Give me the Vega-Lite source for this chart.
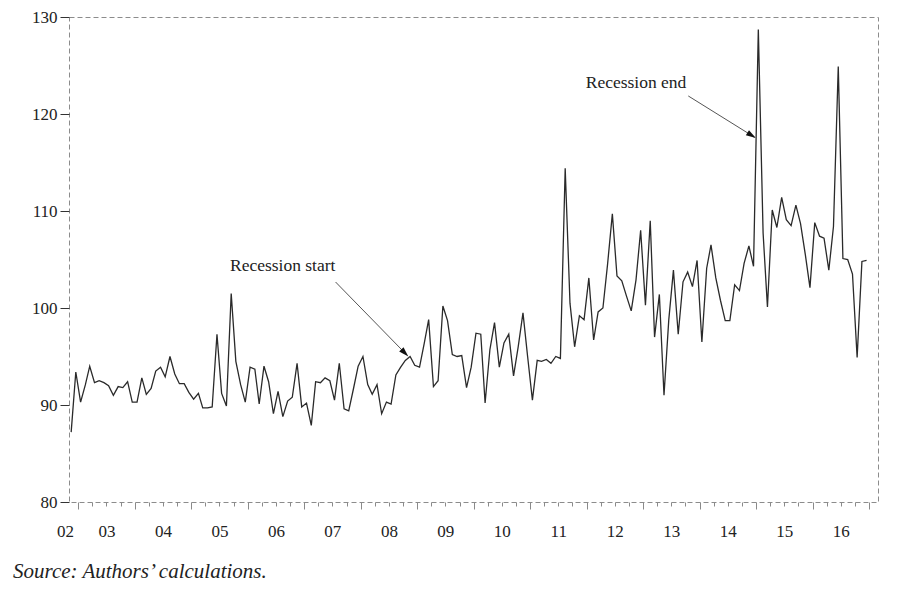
{
  "$schema": "https://vega.github.io/schema/vega-lite/v6.json",
  "width": 809,
  "height": 485,
  "autosize": {"type": "none"},
  "padding": {"left": 69, "top": 17, "right": 22, "bottom": 93},
  "background": "white",
  "config": {
    "view": {"stroke": "#8c8c8c", "strokeDash": [5, 3], "strokeWidth": 1},
    "font": "Liberation Serif"
  },
  "title": {
    "text": "Source: Authors’ calculations.",
    "orient": "bottom",
    "anchor": "start",
    "frame": "group",
    "dx": -56,
    "offset": 19,
    "font": "Liberation Serif",
    "fontSize": 21,
    "fontStyle": "italic",
    "fontWeight": "normal",
    "color": "#222222"
  },
  "datasets": {
    "series": [
      {"date": "2002-11-15", "value": 87.2}, {"date": "2002-12-15", "value": 93.4},
      {"date": "2003-01-15", "value": 90.3}, {"date": "2003-02-15", "value": 92.1}, {"date": "2003-03-15", "value": 94.0}, {"date": "2003-04-15", "value": 92.3}, {"date": "2003-05-15", "value": 92.5}, {"date": "2003-06-15", "value": 92.3}, {"date": "2003-07-15", "value": 92.0}, {"date": "2003-08-15", "value": 91.0}, {"date": "2003-09-15", "value": 91.9}, {"date": "2003-10-15", "value": 91.8}, {"date": "2003-11-15", "value": 92.4}, {"date": "2003-12-15", "value": 90.3},
      {"date": "2004-01-15", "value": 90.3}, {"date": "2004-02-15", "value": 92.8}, {"date": "2004-03-15", "value": 91.1}, {"date": "2004-04-15", "value": 91.7}, {"date": "2004-05-15", "value": 93.5}, {"date": "2004-06-15", "value": 93.9}, {"date": "2004-07-15", "value": 92.9}, {"date": "2004-08-15", "value": 95.0}, {"date": "2004-09-15", "value": 93.2}, {"date": "2004-10-15", "value": 92.2}, {"date": "2004-11-15", "value": 92.2}, {"date": "2004-12-15", "value": 91.3},
      {"date": "2005-01-15", "value": 90.6}, {"date": "2005-02-15", "value": 91.2}, {"date": "2005-03-15", "value": 89.7}, {"date": "2005-04-15", "value": 89.7}, {"date": "2005-05-15", "value": 89.8}, {"date": "2005-06-15", "value": 97.3}, {"date": "2005-07-15", "value": 91.2}, {"date": "2005-08-15", "value": 89.9}, {"date": "2005-09-15", "value": 101.5}, {"date": "2005-10-15", "value": 94.5}, {"date": "2005-11-15", "value": 92.1}, {"date": "2005-12-15", "value": 90.3},
      {"date": "2006-01-15", "value": 93.9}, {"date": "2006-02-15", "value": 93.7}, {"date": "2006-03-15", "value": 90.1}, {"date": "2006-04-15", "value": 94.0}, {"date": "2006-05-15", "value": 92.4}, {"date": "2006-06-15", "value": 89.1}, {"date": "2006-07-15", "value": 91.4}, {"date": "2006-08-15", "value": 88.8}, {"date": "2006-09-15", "value": 90.4}, {"date": "2006-10-15", "value": 90.8}, {"date": "2006-11-15", "value": 94.3}, {"date": "2006-12-15", "value": 89.8},
      {"date": "2007-01-15", "value": 90.2}, {"date": "2007-02-15", "value": 87.9}, {"date": "2007-03-15", "value": 92.4}, {"date": "2007-04-15", "value": 92.3}, {"date": "2007-05-15", "value": 92.8}, {"date": "2007-06-15", "value": 92.5}, {"date": "2007-07-15", "value": 90.5}, {"date": "2007-08-15", "value": 94.3}, {"date": "2007-09-15", "value": 89.6}, {"date": "2007-10-15", "value": 89.4}, {"date": "2007-11-15", "value": 91.7}, {"date": "2007-12-15", "value": 94.0},
      {"date": "2008-01-15", "value": 95.0}, {"date": "2008-02-15", "value": 92.1}, {"date": "2008-03-15", "value": 91.1}, {"date": "2008-04-15", "value": 92.1}, {"date": "2008-05-15", "value": 89.1}, {"date": "2008-06-15", "value": 90.3}, {"date": "2008-07-15", "value": 90.1}, {"date": "2008-08-15", "value": 93.1}, {"date": "2008-09-15", "value": 93.9}, {"date": "2008-10-15", "value": 94.6}, {"date": "2008-11-15", "value": 95.0}, {"date": "2008-12-15", "value": 94.1},
      {"date": "2009-01-15", "value": 93.9}, {"date": "2009-02-15", "value": 96.4}, {"date": "2009-03-15", "value": 98.8}, {"date": "2009-04-15", "value": 91.9}, {"date": "2009-05-15", "value": 92.5}, {"date": "2009-06-15", "value": 100.2}, {"date": "2009-07-15", "value": 98.7}, {"date": "2009-08-15", "value": 95.2}, {"date": "2009-09-15", "value": 95.0}, {"date": "2009-10-15", "value": 95.1}, {"date": "2009-11-15", "value": 91.8}, {"date": "2009-12-15", "value": 93.9},
      {"date": "2010-01-15", "value": 97.4}, {"date": "2010-02-15", "value": 97.3}, {"date": "2010-03-15", "value": 90.2}, {"date": "2010-04-15", "value": 95.7}, {"date": "2010-05-15", "value": 98.5}, {"date": "2010-06-15", "value": 93.9}, {"date": "2010-07-15", "value": 96.4}, {"date": "2010-08-15", "value": 97.3}, {"date": "2010-09-15", "value": 93.0}, {"date": "2010-10-15", "value": 96.0}, {"date": "2010-11-15", "value": 99.5}, {"date": "2010-12-15", "value": 95.0},
      {"date": "2011-01-15", "value": 90.5}, {"date": "2011-02-15", "value": 94.6}, {"date": "2011-03-15", "value": 94.5}, {"date": "2011-04-15", "value": 94.7}, {"date": "2011-05-15", "value": 94.3}, {"date": "2011-06-15", "value": 95.0}, {"date": "2011-07-15", "value": 94.8}, {"date": "2011-08-15", "value": 114.4}, {"date": "2011-09-15", "value": 100.5}, {"date": "2011-10-15", "value": 96.0}, {"date": "2011-11-15", "value": 99.2}, {"date": "2011-12-15", "value": 98.8},
      {"date": "2012-01-15", "value": 103.1}, {"date": "2012-02-15", "value": 96.7}, {"date": "2012-03-15", "value": 99.6}, {"date": "2012-04-15", "value": 100.0}, {"date": "2012-05-15", "value": 104.5}, {"date": "2012-06-15", "value": 109.7}, {"date": "2012-07-15", "value": 103.3}, {"date": "2012-08-15", "value": 102.8}, {"date": "2012-09-15", "value": 101.2}, {"date": "2012-10-15", "value": 99.7}, {"date": "2012-11-15", "value": 102.9}, {"date": "2012-12-15", "value": 108.0},
      {"date": "2013-01-15", "value": 100.3}, {"date": "2013-02-15", "value": 109.0}, {"date": "2013-03-15", "value": 97.0}, {"date": "2013-04-15", "value": 101.4}, {"date": "2013-05-15", "value": 91.0}, {"date": "2013-06-15", "value": 98.8}, {"date": "2013-07-15", "value": 103.9}, {"date": "2013-08-15", "value": 97.3}, {"date": "2013-09-15", "value": 102.7}, {"date": "2013-10-15", "value": 103.7}, {"date": "2013-11-15", "value": 102.2}, {"date": "2013-12-15", "value": 104.9},
      {"date": "2014-01-15", "value": 96.5}, {"date": "2014-02-15", "value": 104.1}, {"date": "2014-03-15", "value": 106.5}, {"date": "2014-04-15", "value": 103.1}, {"date": "2014-05-15", "value": 100.8}, {"date": "2014-06-15", "value": 98.7}, {"date": "2014-07-15", "value": 98.7}, {"date": "2014-08-15", "value": 102.4}, {"date": "2014-09-15", "value": 101.8}, {"date": "2014-10-15", "value": 104.6}, {"date": "2014-11-15", "value": 106.4}, {"date": "2014-12-15", "value": 104.3},
      {"date": "2015-01-15", "value": 128.7}, {"date": "2015-02-15", "value": 107.7}, {"date": "2015-03-15", "value": 100.1}, {"date": "2015-04-15", "value": 110.1}, {"date": "2015-05-15", "value": 108.3}, {"date": "2015-06-15", "value": 111.4}, {"date": "2015-07-15", "value": 109.1}, {"date": "2015-08-15", "value": 108.5}, {"date": "2015-09-15", "value": 110.6}, {"date": "2015-10-15", "value": 108.7}, {"date": "2015-11-15", "value": 105.5}, {"date": "2015-12-15", "value": 102.1},
      {"date": "2016-01-15", "value": 108.8}, {"date": "2016-02-15", "value": 107.4}, {"date": "2016-03-15", "value": 107.2}, {"date": "2016-04-15", "value": 103.9}, {"date": "2016-05-15", "value": 108.4}, {"date": "2016-06-15", "value": 124.9}, {"date": "2016-07-15", "value": 105.1}, {"date": "2016-08-15", "value": 105.0}, {"date": "2016-09-15", "value": 103.5}, {"date": "2016-10-15", "value": 94.9}, {"date": "2016-11-15", "value": 104.8}, {"date": "2016-12-15", "value": 104.9}
    ],
    "labels": [
      {"label": "Recession start", "date": "2006-08-14", "value": 104.3},
      {"label": "Recession end", "date": "2012-11-15", "value": 123.2}
    ],
    "arrows": [
      {"label": "Recession start", "from_date": "2007-07-22", "from_value": 102.68, "to_date": "2008-10-12", "to_value": 95.37},
      {"label": "Recession end", "from_date": "2013-10-19", "from_value": 121.86, "to_date": "2014-12-03", "to_value": 117.79}
    ]
  },
  "layer": [
    {
      "data": {"name": "series"},
      "mark": {"type": "line", "color": "#2a2a2a", "strokeWidth": 1.3},
      "encoding": {
        "x": {
          "field": "date",
          "type": "temporal",
          "scale": {
            "type": "utc",
            "domain": [
              {"year": 2002, "month": 11, "date": 1, "utc": true},
              {"year": 2017, "month": 2, "date": 27, "utc": true}
            ]
          },
          "axis": {
            "title": null,
            "domain": false,
            "grid": false,
            "tickCount": {"interval": "month", "step": 1},
            "tickColor": "#8a8a8a",
            "tickWidth": 1,
            "tickSize": {
              "condition": [
                {"test": "utcyear(datum.value) == 2002", "value": 0},
                {"test": "utcmonth(datum.value) == 0", "value": 7},
                {"test": "utcmonth(datum.value) % 3 == 0", "value": 4}
              ],
              "value": 0
            },
            "labelExpr": "utcmonth(datum.value) == 6 ? utcFormat(datum.value, '%y') : ((utcyear(datum.value) == 2002 && utcmonth(datum.value) == 10) ? '02' : '')",
            "labelOffset": {"condition": {"test": "utcyear(datum.value) == 2002", "value": -4}, "value": 0},
            "labelFont": "Liberation Serif",
            "labelFontSize": 17,
            "labelColor": "#222222",
            "labelPadding": {"condition": {"test": "utcyear(datum.value) == 2002", "value": 21}, "value": 17},
            "labelOverlap": false,
            "labelFlush": false,
            "labelBound": false
          }
        },
        "y": {
          "field": "value",
          "type": "quantitative",
          "scale": {"domain": [80, 130], "nice": false, "zero": false},
          "axis": {
            "title": null,
            "domain": false,
            "grid": false,
            "values": [80, 90, 100, 110, 120, 130],
            "tickColor": "#333333",
            "tickSize": 9,
            "labelFont": "Liberation Serif",
            "labelFontSize": 17,
            "labelColor": "#222222",
            "labelPadding": 3
          }
        }
      }
    },
    {
      "data": {"name": "arrows"},
      "mark": {"type": "rule", "color": "#555555", "strokeWidth": 1},
      "encoding": {
        "x": {"field": "from_date", "type": "temporal", "axis": {"title": null}},
        "y": {"field": "from_value", "type": "quantitative", "axis": {"title": null}},
        "x2": {"field": "to_date"},
        "y2": {"field": "to_value"}
      }
    },
    {
      "data": {"name": "arrows"},
      "transform": [{"filter": "datum.label == 'Recession start'"}],
      "mark": {"type": "point", "shape": "M0,-1L0.6,1L-0.6,1Z", "size": 100, "filled": true, "color": "#111111", "opacity": 1, "angle": 135.8},
      "encoding": {
        "x": {"field": "to_date", "type": "temporal", "axis": {"title": null}},
        "y": {"field": "to_value", "type": "quantitative", "axis": {"title": null}}
      }
    },
    {
      "data": {"name": "arrows"},
      "transform": [{"filter": "datum.label == 'Recession end'"}],
      "mark": {"type": "point", "shape": "M0,-1L0.6,1L-0.6,1Z", "size": 100, "filled": true, "color": "#111111", "opacity": 1, "angle": 121.8},
      "encoding": {
        "x": {"field": "to_date", "type": "temporal", "axis": {"title": null}},
        "y": {"field": "to_value", "type": "quantitative", "axis": {"title": null}}
      }
    },
    {
      "data": {"name": "labels"},
      "mark": {"type": "text", "font": "Liberation Serif", "fontSize": 17.5, "color": "#222222", "align": "center", "baseline": "middle"},
      "encoding": {
        "x": {"field": "date", "type": "temporal", "axis": {"title": null}},
        "y": {"field": "value", "type": "quantitative", "axis": {"title": null}},
        "text": {"field": "label"}
      }
    }
  ]
}
